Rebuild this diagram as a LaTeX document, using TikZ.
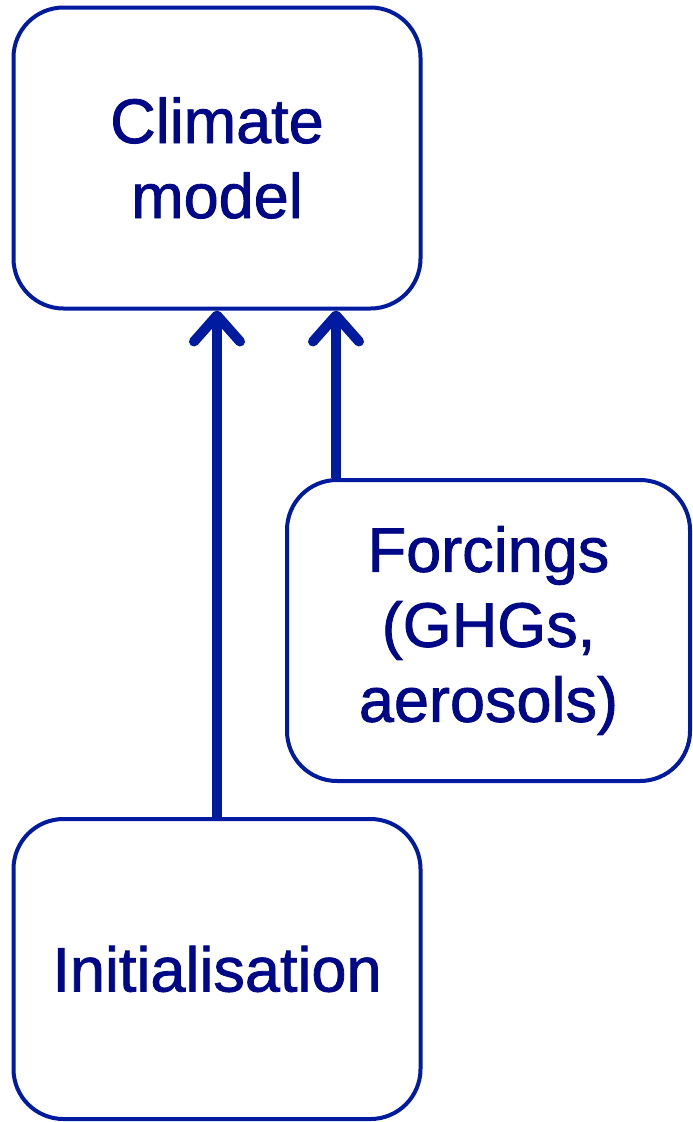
\documentclass[tikz,border=0pt]{standalone}
\usepackage{fontspec}
\setmainfont{Liberation Sans}[FakeBold=1.3]
\usetikzlibrary{arrows.meta,backgrounds}
\definecolor{linec}{RGB}{0,26,160}
\definecolor{textc}{RGB}{0,8,135}
\tikzset{
  box/.style={draw=linec, line width=4pt, fill=white, rounded corners=50pt,
    align=center, text=textc, inner sep=0pt,
    font=\fontsize{63}{75}\selectfont},
  arr/.style={draw=linec, line width=10pt,
    -{Straight Barb[round, length=26pt, width=46pt]}}
}
\begin{document}
\begin{tikzpicture}[x=1pt,y=-1pt]
\useasboundingbox (0,0) rectangle (693,1122);
\node[box, minimum width=407pt, minimum height=301pt] (clim) at (217,158) {Climate\\model};
\node[box, minimum width=403pt, minimum height=301pt] (forc) at (488.5,630.5) {Forcings\\(GHGs,\\aerosols)};
\node[box, minimum width=407pt, minimum height=300pt] (init) at (217,969) {Initialisation};
\begin{scope}[on background layer]
\draw[arr] (init.north) -- (clim.south);
\draw[arr] ([xshift=51pt]forc.north west) -- ([xshift=324.5pt]clim.south west);
\end{scope}
\end{tikzpicture}
\end{document}
